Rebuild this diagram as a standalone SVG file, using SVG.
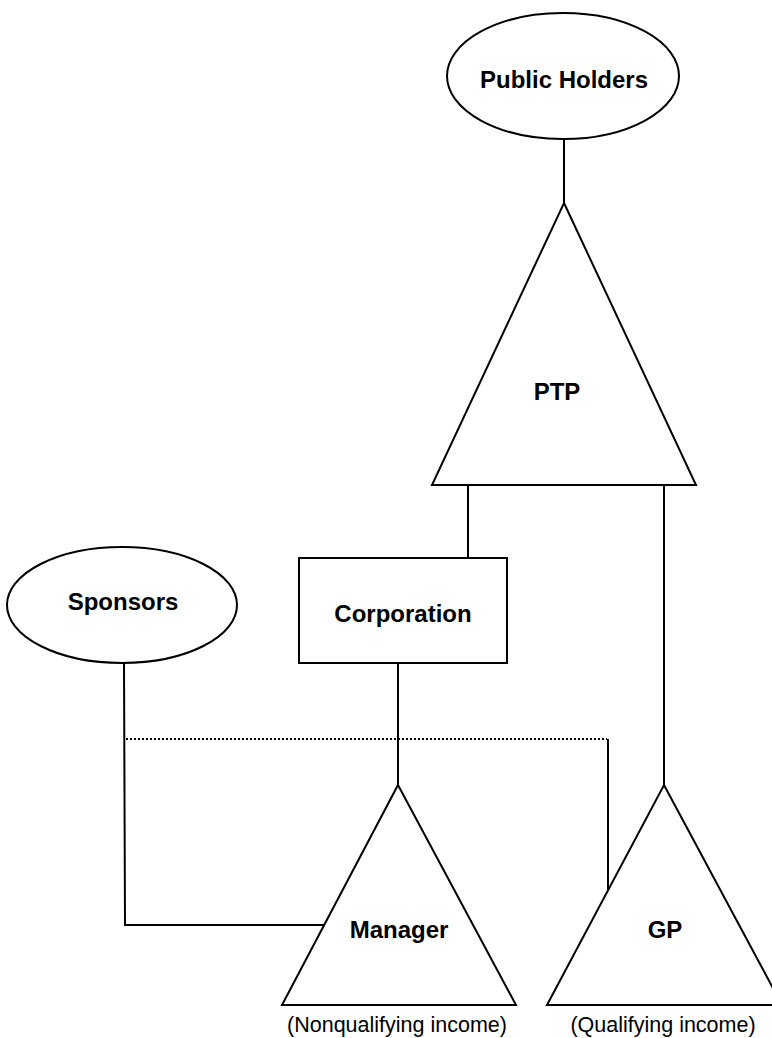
<svg xmlns="http://www.w3.org/2000/svg" width="772" height="1038" viewBox="0 0 772 1038">
<style>
.shape{fill:#fff;stroke:#000;stroke-width:2}
.line{fill:none;stroke:#000;stroke-width:2}
.dot{fill:none;stroke:#000;stroke-width:2;stroke-dasharray:2 2}
.lbl{font-family:"Liberation Sans",Arial,sans-serif;font-weight:bold;font-size:24px;text-anchor:middle;fill:#000}
.note{font-family:"Liberation Sans",Arial,sans-serif;font-size:21.5px;text-anchor:middle;fill:#000}
</style>
<rect width="772" height="1038" fill="#fff"/>
<g id="connectors">
<line class="line" x1="564" y1="139" x2="564" y2="203"/>
<line class="line" x1="468" y1="485" x2="468" y2="558"/>
<line class="line" x1="664" y1="485" x2="664" y2="785"/>
<line class="line" x1="398" y1="663" x2="398" y2="785"/>
<polyline class="line" points="124,663 125,925 324,925"/>
<line class="dot" x1="126" y1="739" x2="607" y2="739"/>
<line class="line" x1="608" y1="739" x2="608" y2="890"/>
</g>
<g id="public-holders">
<ellipse class="shape" cx="563" cy="76" rx="116" ry="63"/>
<text class="lbl" x="564" y="88">Public Holders</text>
</g>
<g id="ptp">
<polygon class="shape" points="564,203 696,485 432,485"/>
<text class="lbl" x="557" y="400">PTP</text>
</g>
<g id="sponsors">
<ellipse class="shape" cx="122" cy="605" rx="115" ry="58"/>
<text class="lbl" x="123" y="610">Sponsors</text>
</g>
<g id="corporation">
<rect class="shape" x="299" y="558" width="208" height="105"/>
<text class="lbl" x="403" y="622">Corporation</text>
</g>
<g id="manager">
<polygon class="shape" points="398,785 516,1005 282,1005"/>
<text class="lbl" x="399" y="938">Manager</text>
<text class="note" x="397" y="1032">(Nonqualifying income)</text>
</g>
<g id="gp">
<polygon class="shape" points="664,785 782,1005 547,1005"/>
<text class="lbl" x="665" y="938">GP</text>
<text class="note" x="663" y="1032">(Qualifying income)</text>
</g>
</svg>
